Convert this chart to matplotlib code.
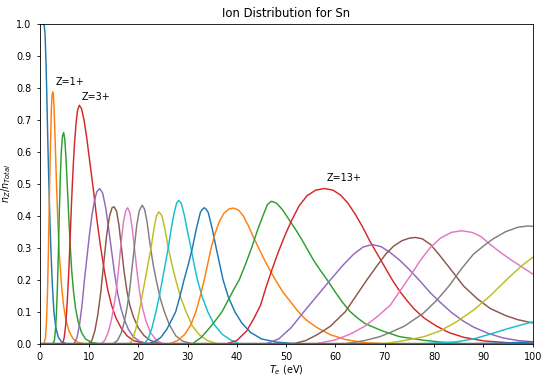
import matplotlib
matplotlib.use('Agg')
import matplotlib.pyplot as plt

#%%
# ion fractions, one curve per charge state
z0_x = [0, 0.9, 1.1, 1.3, 1.5, 1.7, 1.9, 2.1, 2.3, 2.6, 2.9, 3.3, 3.8, 4.5, 5.5, 100]
z0_y = [1.0, 1.0, 0.97, 0.88, 0.75, 0.61, 0.49, 0.38, 0.29, 0.18, 0.10, 0.05, 0.02, 0.005, 0.0, 0.0]

z1_x = [0, 0.9, 1.2, 1.4, 1.6, 1.8, 2.0, 2.2, 2.4, 2.52, 2.65, 2.78, 2.9, 3.15, 3.4, 3.7, 4.0, 4.4, 4.9, 5.4, 6.0, 6.8, 7.8, 9.0, 100]
z1_y = [0, 0, 0.02, 0.07, 0.16, 0.30, 0.47, 0.62, 0.74, 0.775, 0.787, 0.78, 0.75, 0.64, 0.51, 0.38, 0.28, 0.19, 0.115, 0.07, 0.038, 0.015, 0.004, 0, 0]

z2_x = [0, 2.7, 3.0, 3.2, 3.4, 3.6, 3.8, 4.0, 4.2, 4.4, 4.65, 4.88, 5.1, 5.35, 5.6, 5.9, 6.2, 6.5, 6.9, 7.3, 7.8, 8.5, 9.3, 10.5, 12.0, 100]
z2_y = [0, 0, 0.01, 0.04, 0.09, 0.17, 0.28, 0.41, 0.52, 0.60, 0.65, 0.66, 0.64, 0.58, 0.50, 0.40, 0.31, 0.23, 0.16, 0.11, 0.07, 0.035, 0.015, 0.004, 0, 0]

z3_x = [0, 4.7, 5.0, 5.3, 5.6, 5.9, 6.2, 6.5, 6.8, 7.1, 7.4, 7.7, 8.06, 8.5, 9.0, 9.5, 10.0, 10.5, 11.0, 11.6, 12.3, 13.0, 13.8, 14.6, 15.5, 16.5, 17.7, 19.0, 21.0, 23.0, 100]
z3_y = [0, 0, 0.02, 0.06, 0.13, 0.22, 0.33, 0.45, 0.55, 0.63, 0.69, 0.73, 0.745, 0.735, 0.70, 0.65, 0.59, 0.53, 0.47, 0.39, 0.31, 0.24, 0.17, 0.12, 0.08, 0.05, 0.025, 0.01, 0.002, 0, 0]

z4_x = [0, 7.0, 7.6, 8.1, 8.6, 9.1, 9.6, 10.1, 10.6, 11.1, 11.6, 12.2, 12.8, 13.4, 14.0, 14.6, 15.2, 15.8, 16.5, 17.2, 18.0, 19.0, 20.2, 22.0, 100]
z4_y = [0, 0, 0.02, 0.06, 0.12, 0.20, 0.27, 0.34, 0.40, 0.445, 0.475, 0.485, 0.47, 0.425, 0.36, 0.29, 0.22, 0.16, 0.11, 0.075, 0.045, 0.022, 0.008, 0, 0]

z5_x = [0, 10.0, 10.6, 11.2, 11.8, 12.4, 13.0, 13.6, 14.2, 14.7, 15.1, 15.6, 16.1, 16.6, 17.1, 17.7, 18.3, 19.0, 20.0, 21.2, 22.5, 24.5, 100]
z5_y = [0, 0, 0.01, 0.04, 0.09, 0.16, 0.25, 0.34, 0.40, 0.425, 0.428, 0.415, 0.37, 0.30, 0.23, 0.165, 0.12, 0.085, 0.05, 0.025, 0.01, 0, 0]

z6_x = [0, 12.5, 13.2, 13.9, 14.5, 15.0, 15.5, 16.0, 16.5, 17.0, 17.45, 17.85, 18.3, 18.8, 19.3, 19.8, 20.3, 20.9, 21.6, 22.5, 23.6, 25.0, 100]
z6_y = [0, 0, 0.01, 0.035, 0.07, 0.11, 0.16, 0.23, 0.31, 0.38, 0.415, 0.425, 0.41, 0.36, 0.29, 0.22, 0.16, 0.11, 0.07, 0.035, 0.012, 0, 0]

z7_x = [0, 14.9, 15.8, 16.6, 17.2, 17.7, 18.2, 18.7, 19.2, 19.7, 20.2, 20.8, 21.3, 21.8, 22.4, 23.0, 23.7, 24.5, 25.3, 26.3, 27.6, 29.0, 31.0, 100]
z7_y = [0, 0, 0.01, 0.035, 0.07, 0.11, 0.16, 0.23, 0.30, 0.37, 0.415, 0.433, 0.42, 0.38, 0.31, 0.25, 0.195, 0.14, 0.10, 0.06, 0.025, 0.008, 0, 0]

z8_x = [0, 18.2, 18.8, 19.5, 20.2, 20.8, 21.4, 22.0, 22.6, 23.2, 23.7, 24.2, 24.8, 25.4, 26.1, 26.8, 27.6, 28.6, 29.7, 31.0, 32.4, 34.0, 36.0, 100]
z8_y = [0, 0, 0.01, 0.045, 0.10, 0.15, 0.20, 0.25, 0.30, 0.36, 0.40, 0.412, 0.40, 0.36, 0.30, 0.25, 0.20, 0.145, 0.10, 0.055, 0.028, 0.01, 0, 0]

z9_x = [0, 21.2, 22.0, 22.8, 23.6, 24.3, 24.9, 25.5, 26.1, 26.7, 27.3, 27.8, 28.2, 28.7, 29.3, 30.0, 30.7, 31.3, 32.0, 33.0, 34.1, 35.4, 37.0, 38.7, 40.5, 100]
z9_y = [0, 0, 0.015, 0.05, 0.10, 0.15, 0.20, 0.25, 0.30, 0.36, 0.41, 0.44, 0.448, 0.44, 0.405, 0.35, 0.30, 0.25, 0.20, 0.145, 0.10, 0.06, 0.03, 0.012, 0, 0]

z10_x = [0, 22.2, 23.5, 24.6, 25.8, 26.8, 27.6, 28.5, 29.3, 30.2, 31.0, 31.8, 32.6, 33.0, 33.4, 33.8, 34.2, 35.0, 35.8, 36.5, 37.2, 38.3, 39.6, 41.0, 42.8, 45.0, 48.0, 52.0, 100]
z10_y = [0, 0, 0.008, 0.02, 0.045, 0.075, 0.10, 0.15, 0.20, 0.25, 0.30, 0.36, 0.41, 0.42, 0.425, 0.42, 0.41, 0.36, 0.30, 0.25, 0.20, 0.145, 0.10, 0.065, 0.035, 0.015, 0.005, 0, 0]

z11_x = [0, 26.5, 28.0, 29.5, 30.7, 31.7, 32.6, 33.4, 34.1, 34.8, 35.6, 36.4, 37.4, 38.4, 39.3, 40.3, 41.3, 42.3, 43.3, 44.4, 45.5, 46.7, 48.0, 49.4, 50.7, 52.2, 54.0, 56.3, 59.0, 62.0, 66.0, 70.0, 100]
z11_y = [0, 0, 0.01, 0.03, 0.06, 0.10, 0.15, 0.20, 0.25, 0.30, 0.345, 0.38, 0.408, 0.421, 0.424, 0.418, 0.40, 0.37, 0.335, 0.30, 0.265, 0.23, 0.195, 0.16, 0.135, 0.105, 0.075, 0.05, 0.028, 0.013, 0.003, 0, 0]

z12_x = [0, 31.0, 32.8, 34.5, 35.8, 37.0, 38.2, 39.4, 40.5, 41.8, 43.0, 44.2, 45.3, 46.2, 47.0, 48.0, 49.2, 50.5, 52.0, 53.2, 54.3, 55.6, 56.9, 58.3, 59.8, 61.4, 63.0, 64.5, 66.0, 69.5, 73.0, 77.8, 82.0, 86.0, 100]
z12_y = [0, 0, 0.02, 0.05, 0.075, 0.10, 0.135, 0.17, 0.20, 0.25, 0.30, 0.355, 0.40, 0.435, 0.445, 0.44, 0.42, 0.39, 0.355, 0.325, 0.295, 0.26, 0.23, 0.20, 0.165, 0.13, 0.10, 0.08, 0.063, 0.04, 0.022, 0.011, 0.004, 0, 0]

z13_x = [0, 38.0, 40.0, 42.0, 43.5, 44.8, 46.0, 47.2, 48.5, 49.8, 51.1, 52.6, 54.2, 56.0, 57.8, 59.5, 61.0, 62.5, 64.0, 65.5, 67.0, 68.5, 70.0, 71.5, 73.0, 74.5, 76.0, 78.0, 80.5, 83.0, 86.0, 90.0, 95.0, 100]
z13_y = [0, 0, 0.01, 0.04, 0.08, 0.12, 0.18, 0.235, 0.29, 0.34, 0.385, 0.43, 0.462, 0.48, 0.485, 0.48, 0.465, 0.44, 0.405, 0.365, 0.32, 0.28, 0.24, 0.20, 0.165, 0.135, 0.108, 0.08, 0.055, 0.035, 0.02, 0.009, 0.003, 0.001]

z14_x = [0, 46.0, 48.5, 51.0, 53.6, 56.3, 59.0, 61.5, 63.7, 65.6, 67.5, 69.3, 71.1, 73.1, 75.1, 77.2, 79.2, 81.2, 83.5, 86.0, 88.0, 91.0, 94.0, 97.0, 100]
z14_y = [0, 0, 0.015, 0.05, 0.10, 0.15, 0.20, 0.245, 0.28, 0.302, 0.31, 0.303, 0.285, 0.26, 0.23, 0.195, 0.16, 0.13, 0.098, 0.07, 0.052, 0.032, 0.018, 0.01, 0.006]

z15_x = [0, 51.5, 54.0, 56.5, 59.0, 62.0, 64.2, 66.4, 68.5, 70.2, 71.8, 73.5, 75.0, 76.2, 77.6, 79.3, 81.2, 83.5, 86.0, 88.8, 91.4, 94.5, 97.0, 100]
z15_y = [0, 0, 0.01, 0.03, 0.055, 0.10, 0.15, 0.20, 0.245, 0.28, 0.305, 0.322, 0.33, 0.332, 0.328, 0.31, 0.275, 0.23, 0.18, 0.14, 0.11, 0.088, 0.075, 0.065]

z16_x = [0, 56.0, 60.0, 63.0, 66.0, 68.5, 71.1, 73.1, 75.1, 77.2, 79.2, 81.3, 83.5, 85.6, 87.7, 89.5, 91.4, 93.5, 95.8, 98.0, 100]
z16_y = [0, 0, 0.012, 0.03, 0.055, 0.085, 0.12, 0.165, 0.21, 0.26, 0.30, 0.33, 0.348, 0.353, 0.348, 0.335, 0.31, 0.285, 0.26, 0.238, 0.218]

z17_x = [0, 62.0, 66.0, 69.0, 71.1, 74.0, 77.8, 80.5, 83.0, 85.6, 88.0, 90.0, 92.0, 94.5, 97.0, 99.0, 100]
z17_y = [0, 0, 0.01, 0.022, 0.035, 0.055, 0.095, 0.135, 0.18, 0.235, 0.28, 0.305, 0.328, 0.35, 0.364, 0.368, 0.367]

z18_x = [0, 70.0, 74.0, 78.0, 81.2, 84.5, 88.0, 91.4, 94.7, 97.5, 100]
z18_y = [0, 0, 0.01, 0.022, 0.04, 0.068, 0.105, 0.15, 0.20, 0.24, 0.27]

z19_x = [0, 78.0, 84.6, 88.0, 91.4, 94.5, 97.5, 100]
z19_y = [0, 0, 0.006, 0.015, 0.03, 0.045, 0.058, 0.068]

z20_x = [0, 88.0, 94.0, 100]
z20_y = [0, 0, 0.002, 0.006]

curves = [(z0_x, z0_y), (z1_x, z1_y), (z2_x, z2_y), (z3_x, z3_y), (z4_x, z4_y),
          (z5_x, z5_y), (z6_x, z6_y), (z7_x, z7_y), (z8_x, z8_y), (z9_x, z9_y),
          (z10_x, z10_y), (z11_x, z11_y), (z12_x, z12_y), (z13_x, z13_y),
          (z14_x, z14_y), (z15_x, z15_y), (z16_x, z16_y), (z17_x, z17_y),
          (z18_x, z18_y), (z19_x, z19_y), (z20_x, z20_y)]

# labelled charge states and where their text sits
label_text = ['Z=1+', 'Z=3+', 'Z=13+']
label_x = [3.2, 8.5, 58.2]
label_y = [0.817, 0.772, 0.517]

#%%
plt.rcParams['font.size'] = 6.9
plt.rcParams['axes.linewidth'] = 0.6
plt.rcParams['xtick.major.width'] = 0.6
plt.rcParams['ytick.major.width'] = 0.6
plt.rcParams['xtick.major.size'] = 2.4
plt.rcParams['ytick.major.size'] = 2.4

fig = plt.figure(figsize=(5.5, 3.8), dpi=100)
ax = fig.add_axes([0.072, 0.0955, 0.8965, 0.842])

for cx, cy in curves:
    ax.plot(cx, cy, linewidth=1.05)

for t, tx, ty in zip(label_text, label_x, label_y):
    ax.text(tx, ty, t, ha='left', va='center')

ax.set_xlim(0, 100)
ax.set_ylim(0, 1)
ax.set_xticks(range(0, 101, 10))
ax.set_yticks([i / 10 for i in range(11)])
ax.set_xlabel('$T_e$ (eV)', labelpad=1)
ax.set_ylabel('$n_Z/n_{Total}$', labelpad=2)
ax.set_title('Ion Distribution for Sn', fontsize=8.4, pad=5)

fig.savefig('out.png', dpi=100)
